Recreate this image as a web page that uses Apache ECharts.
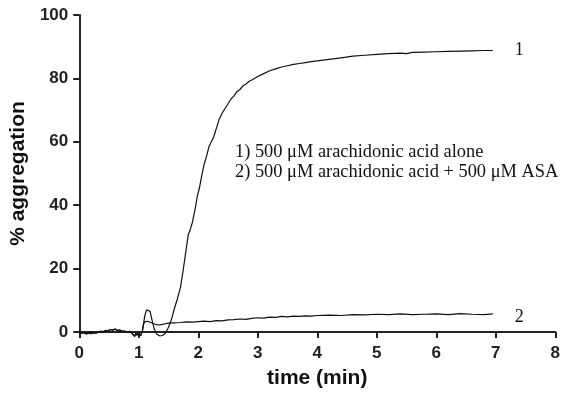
<!DOCTYPE html>
<html>
<head>
<meta charset="utf-8">
<script src="https://cdn.jsdelivr.net/npm/echarts@6/dist/echarts.min.js"></script>
<style>html,body{margin:0;padding:0;background:#fff}#c{width:563px;height:394px}</style>
</head>
<body>
<div id="c"></div>
<script>
var xTicks = [0,1,2,3,4,5,6,7,8];
var yTicks = [0,20,40,60,80,100];
var baseT = [0,0.04,0.08,0.12,0.16,0.2,0.24,0.28,0.32,0.36,0.4,0.44,0.48,0.52,0.56,0.6,0.64,0.68,0.72,0.76,0.8,0.84,0.88,0.91,0.93,0.95,0.97,1.0,1.03,1.06];
var baseV = [0,-0.4,-0.2,-0.6,-0.3,-0.5,-0.2,-0.4,0.0,0.2,0.1,0.5,0.3,0.8,0.6,0.9,0.5,0.6,0.2,0.3,-0.1,0.2,-0.3,-0.1,-1.4,-0.3,-1.0,-0.2,-1.2,0.2];
var t1 = [1.08,1.1,1.13,1.16,1.19,1.22,1.26,1.3,1.35,1.4,1.45,1.5,1.55,1.6,1.65,1.7,1.75,1.8,1.83,1.86,1.9,1.95,1.98,2.02,2.06,2.1,2.14,2.18,2.22,2.26,2.3,2.35,2.4,2.45,2.5,2.55,2.6,2.65,2.7,2.75,2.8,2.85,2.9,3.0,3.1,3.2,3.3,3.4,3.5,3.6,3.7,3.8,3.9,4.0,4.2,4.4,4.6,4.8,5.0,5.2,5.4,5.5,5.6,5.8,6.0,6.2,6.4,6.6,6.8,6.95];
var v1 = [2.5,5.0,7.0,7.4,6.5,4.0,1.0,-0.6,-1.2,-1.1,-0.3,1.5,4.0,7.5,10.5,14.0,20.0,26.5,30.5,32.0,34.5,39.0,42.5,45.5,49.5,53.0,55.5,58.5,60.0,61.5,64.0,67.0,69.0,70.5,72.0,73.5,74.5,75.8,76.5,77.6,78.2,79.0,79.5,80.6,81.5,82.4,83.0,83.6,84.0,84.4,84.7,85.0,85.3,85.5,86.0,86.5,87.0,87.3,87.6,87.8,88.0,87.8,88.2,88.3,88.4,88.5,88.6,88.7,88.8,88.8];
var t2 = [1.08,1.1,1.15,1.2,1.25,1.3,1.35,1.4,1.45,1.5,1.6,1.7,1.8,1.9,2.0,2.1,2.2,2.3,2.4,2.5,2.6,2.7,2.8,2.9,3.0,3.1,3.2,3.3,3.4,3.5,3.6,3.7,3.8,3.9,4.0,4.2,4.4,4.6,4.8,5.0,5.2,5.4,5.6,5.8,6.0,6.2,6.4,6.6,6.8,6.95];
var v2 = [2.5,3.2,3.4,3.0,2.6,2.3,2.2,2.4,2.6,2.8,2.9,3.0,3.2,3.1,3.3,3.4,3.3,3.6,3.5,3.8,3.9,4.1,4.0,4.3,4.5,4.4,4.7,4.6,4.9,4.8,5.0,4.9,5.1,5.0,5.2,5.3,5.2,5.5,5.4,5.6,5.5,5.7,5.5,5.6,5.7,5.5,5.8,5.6,5.5,5.7];
var label1 = '1';
var label2 = '2';
var note1 = '1) 500 \u03bcM arachidonic acid alone';
var note2 = '2) 500 \u03bcM arachidonic acid + 500 \u03bcM ASA';

function pairs(ts, vs){ var out=[]; for(var i=0;i<ts.length;i++) out.push([ts[i],vs[i]]); return out; }
var d1 = pairs(baseT, baseV).concat(pairs(t1, v1));
var d2 = pairs(baseT, baseV).concat(pairs(t2, v2));

var chart = echarts.init(document.getElementById('c'), null, {renderer:'canvas'});
var axisFont = {fontFamily:'Liberation Sans, Arial, sans-serif', fontWeight:'bold', fontSize:17, color:'#222'};
var titleFont = {fontFamily:'Liberation Sans, Arial, sans-serif',fontWeight:'bold',fontSize:21,color:'#111'};
chart.setOption({
  animation:false,
  backgroundColor:'#fff',
  grid:{left:79,right:6,top:15,bottom:59,containLabel:false},
  xAxis:{type:'value',min:xTicks[0],max:xTicks[xTicks.length-1],interval:1,
    name:'time (min)',nameLocation:'middle',nameGap:36,
    nameTextStyle:titleFont,
    axisLine:{lineStyle:{color:'#222',width:2}},
    axisTick:{length:6,lineStyle:{color:'#222',width:2}},
    axisLabel:Object.assign({margin:13},axisFont),
    splitLine:{show:false}},
  yAxis:{type:'value',min:yTicks[0],max:yTicks[yTicks.length-1],interval:20,
    name:'% aggregation',nameLocation:'middle',nameGap:42,
    nameTextStyle:titleFont,
    axisLine:{show:true,lineStyle:{color:'#222',width:2}},
    axisTick:{show:true,length:6,lineStyle:{color:'#222',width:2}},
    axisLabel:Object.assign({margin:11},axisFont),
    splitLine:{show:false}},
  series:[
    {type:'line',data:d1,showSymbol:false,clip:false,lineStyle:{color:'#111',width:1.2},
      endLabel:{show:true,formatter:label1,distance:22,fontFamily:'Liberation Serif, Times New Roman, serif',fontSize:18,color:'#111'}},
    {type:'line',data:d2,showSymbol:false,clip:false,lineStyle:{color:'#111',width:1.2},
      endLabel:{show:true,formatter:label2,distance:22,offset:[0,3],fontFamily:'Liberation Serif, Times New Roman, serif',fontSize:18,color:'#111'}}
  ],
  graphic:[
    {type:'text',left:235,top:142,style:{text:note1+'\n'+note2,font:'18.4px "Liberation Serif", "Times New Roman", serif',fill:'#111',lineHeight:20}}
  ]
});
</script>
</body>
</html>
